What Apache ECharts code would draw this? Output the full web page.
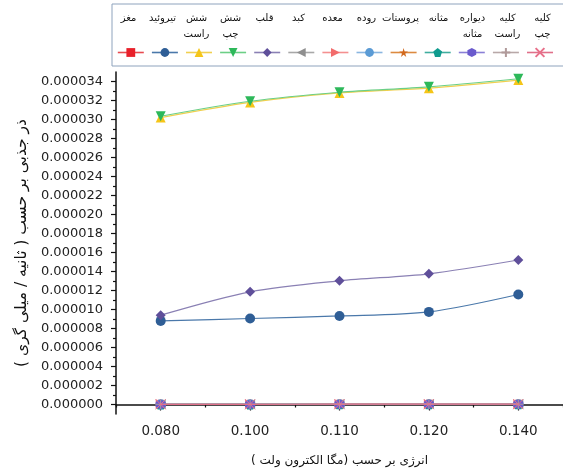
<!DOCTYPE html>
<html>
<head>
<meta charset="utf-8">
<script src="https://cdn.jsdelivr.net/npm/echarts@6/dist/echarts.min.js"></script>
<style>
  html, body { margin: 0; padding: 0; background: #fff; }
  #main { width: 563px; height: 474px; }
</style>
</head>
<body>
<div id="main"></div>
<script>
// energy (MeV) on x
const xCategories = ['0.080', '0.100', '0.110', '0.120', '0.140'];
// y tick labels
const yTicks = [0, 0.000002, 0.000004, 0.000006, 0.000008, 0.000010, 0.000012, 0.000014, 0.000016,
  0.000018, 0.000020, 0.000022, 0.000024, 0.000026, 0.000028, 0.000030, 0.000032, 0.000034];
const yMinorTicks = [0.000001, 0.000003, 0.000005, 0.000007, 0.000009, 0.000011, 0.000013, 0.000015, 0.000017,
  0.000019, 0.000021, 0.000023, 0.000025, 0.000027, 0.000029, 0.000031, 0.000033];

// organ names (legend order, left to right)
const organNames = ['مغز', 'تیروئید', 'شش راست', 'شش چپ', 'قلب', 'کبد', 'معده', 'روده',
  'پروستات', 'مثانه', 'دیواره مثانه', 'کلیه راست', 'کلیه چپ'];

// values per organ
const brain = [0.00000002, 0.00000002, 0.00000003, 0.00000003, 0.00000003];
const thyroid = [0.00000880, 0.00000905, 0.00000932, 0.00000975, 0.00001158];
const lungRight = [0.00003020, 0.00003180, 0.00003280, 0.00003330, 0.00003415];
const lungLeft = [0.00003034, 0.00003192, 0.00003287, 0.00003344, 0.00003429];
const heart = [0.00000940, 0.00001186, 0.00001302, 0.00001376, 0.00001521];
const liver = [0.00000003, 0.00000003, 0.00000004, 0.00000004, 0.00000004];
const stomach = [0.00000002, 0.00000002, 0.00000003, 0.00000003, 0.00000003];
const intestine = [0.00000002, 0.00000002, 0.00000002, 0.00000003, 0.00000003];
const prostate = [0.00000001, 0.00000001, 0.00000002, 0.00000002, 0.00000002];
const bladder = [0.00000001, 0.00000001, 0.00000002, 0.00000002, 0.00000002];
const bladderWall = [0.00000001, 0.00000001, 0.00000002, 0.00000002, 0.00000002];
const kidneyRight = [0.00000002, 0.00000002, 0.00000003, 0.00000003, 0.00000003];
const kidneyLeft = [0.00000002, 0.00000002, 0.00000003, 0.00000003, 0.00000003];

const allData = [brain, thyroid, lungRight, lungLeft, heart, liver, stomach, intestine,
  prostate, bladder, bladderWall, kidneyRight, kidneyLeft];

const markColors = ['#e8202a', '#2f5e96', '#f5c518', '#2db85a', '#5f4f9a', '#8f8f8f', '#f26c6c',
  '#5b9bd5', '#d2691e', '#0f9b8e', '#6a5acd', '#b09a9a', '#e8708a'];
const lineColors = ['#e84a50', '#4a78aa', '#f0d050', '#6ccf86', '#8a80b4', '#a8a8a8', '#f49090',
  '#8ab6e0', '#dc8a40', '#40ad9f', '#8a7fd6', '#b8a8a8', '#e0708a'];
const symbols = [
  'rect', 'circle', 'triangle', 'triangle', 'diamond', 'triangle', 'triangle', 'circle',
  'path://M50,0 L61,35 L98,35 L68,57 L79,91 L50,70 L21,91 L32,57 L2,35 L39,35 Z',
  'path://M50,0 L98,35 L79,91 L21,91 L2,35 Z',
  'path://M50,0 L85,25 L85,75 L50,100 L15,75 L15,25 Z',
  'path://M50,0 L50,100 M0,50 L100,50',
  'path://M0,0 L100,100 M100,0 L0,100'
];
const symbolRotates = [0, 0, 0, 180, 0, 90, -90, 0, 0, 0, 0, 0, 0];

const chart = echarts.init(document.getElementById('main'), null, { renderer: 'canvas' });

const series = organNames.map((name, i) => ({
  name: name,
  type: 'line',
  smooth: 0.3,
  data: allData[i],
  symbol: symbols[i],
  symbolSize: i === 0 ? [6, 9] : 10,
  symbolRotate: symbolRotates[i],
  xAxisIndex: 0,
  yAxisIndex: 0,
  lineStyle: { color: lineColors[i], width: 1.2 },
  itemStyle: { color: markColors[i], borderColor: markColors[i], borderWidth: i >= 11 ? 1 : 0 },
  emphasis: { disabled: true },
  z: 3 + i
}));

const option = {
  animation: false,
  backgroundColor: '#fff',
  graphic: [{
    type: 'rect',
    shape: { x: 112, y: 4, width: 460, height: 62 },
    style: { fill: 'none', stroke: '#8ea3bd', lineWidth: 1 },
    silent: true
  }],
  legend: [{
    data: organNames,
    left: 117,
    top: 47,
    padding: 0,
    itemWidth: 26,
    itemHeight: 11,
    itemGap: 6.5,
    selectedMode: false,
    formatter: () => '',
    lineStyle: { width: 1.6 }
  }, {
    data: organNames,
    left: 109,
    top: 13,
    padding: 0,
    itemWidth: 0,
    itemHeight: 0,
    itemGap: 0,
    icon: 'rect',
    selectedMode: false,
    itemStyle: { opacity: 0 },
    lineStyle: { opacity: 0 },
    formatter: function (name) {
      const parts = name.split(' ');
      const txt = parts.length > 1 ? parts.join('\n') : name + '\n ';
      return '{t|' + txt + '}';
    },
    textStyle: {
      rich: {
        t: { width: 29, align: 'center', lineHeight: 16, fontSize: 10, fontFamily: 'DejaVu Sans', color: '#111' }
      }
    }
  }],
  grid: { left: 116, right: 0, top: 72, bottom: 60 },
  xAxis: [{
    type: 'category',
    data: xCategories,
    boundaryGap: true,
    name: 'انرژی بر حسب (مگا الکترون ولت )',
    nameLocation: 'middle',
    nameGap: 41,
    nameTextStyle: { fontFamily: 'DejaVu Sans', fontSize: 12, color: '#111' },
    axisLine: { show: true, lineStyle: { color: '#111', width: 1.5 } },
    axisTick: { show: true, alignWithLabel: true, length: 6, lineStyle: { color: '#111', width: 1.2 } },
    axisLabel: { margin: 10, fontFamily: 'DejaVu Sans', fontSize: 13.5, color: '#222' },
    splitLine: { show: false }
  }, {
    type: 'category',
    data: xCategories,
    boundaryGap: true,
    position: 'bottom',
    axisLine: { show: false },
    axisTick: { show: true, alignWithLabel: false, length: 3, lineStyle: { color: '#111', width: 1.2 } },
    axisLabel: { show: false },
    splitLine: { show: false }
  }],
  yAxis: [{
    type: 'value',
    min: -0.000001,
    max: 0.000035,
    name: 'ذر جذبی بر حسب ( ثانیه / میلی گری )',
    nameLocation: 'middle',
    nameGap: 85,
    nameTextStyle: { fontFamily: 'DejaVu Sans', fontSize: 15.5, color: '#111' },
    axisLine: { show: true, lineStyle: { color: '#111', width: 1.5 } },
    axisTick: { show: true, customValues: yTicks, length: 5, lineStyle: { color: '#111', width: 1.2 } },
    axisLabel: {
      customValues: yTicks,
      margin: 13,
      fontFamily: 'DejaVu Sans',
      fontSize: 13,
      color: '#222',
      formatter: v => v.toFixed(6)
    },
    splitLine: { show: false }
  }, {
    type: 'value',
    min: -0.000001,
    max: 0.000035,
    position: 'left',
    axisLine: { show: false },
    axisTick: { show: true, customValues: yMinorTicks, length: 3, lineStyle: { color: '#111', width: 1.2 } },
    axisLabel: { show: false },
    splitLine: { show: false }
  }],
  series: series
};

chart.setOption(option);
</script>
</body>
</html>
